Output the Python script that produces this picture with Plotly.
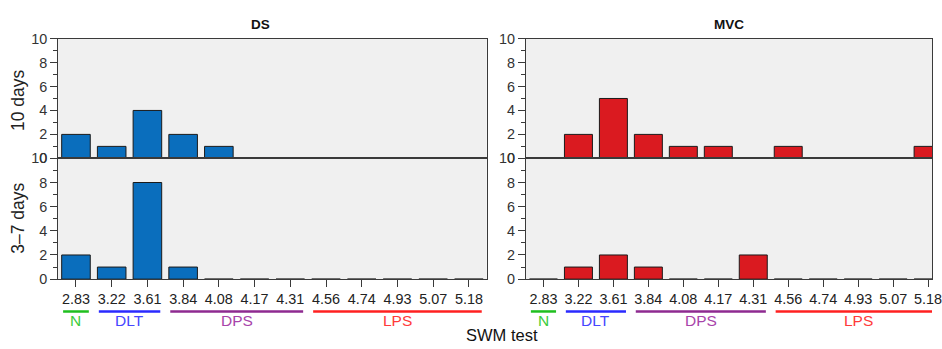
import plotly.graph_objects as go

categories = ["2.83", "3.22", "3.61", "3.84", "4.08", "4.17", "4.31",
              "4.56", "4.74", "4.93", "5.07", "5.18"]
ds_10days = [2, 1, 4, 2, 1, 0, 0, 0, 0, 0, 0, 0]
ds_3_7days = [2, 1, 8, 1, 0, 0, 0, 0, 0, 0, 0, 0]
mvc_10days = [0, 2, 5, 2, 1, 1, 0, 1, 0, 0, 0, 1]
mvc_3_7days = [0, 1, 2, 1, 0, 0, 2, 0, 0, 0, 0, 0]
y_ticks = [0, 2, 4, 6, 8, 10]

group_names = ["N", "DLT", "DPS", "LPS"]
group_first = ["2.83", "3.22", "3.84", "4.56"]
group_last = ["2.83", "3.61", "4.31", "5.18"]
group_line_colors = ["#1fbf1f", "#2a2aff", "#8e2a90", "#ff2020"]
group_text_colors = ["#3ccc3c", "#4646ff", "#a844aa", "#ff3a3a"]

W, H = 942, 349
FONT = "Arial, Liberation Sans, sans-serif"
DS_BLUE = "#0a6ebd"
MVC_RED = "#da1a20"
AXC = "#3a3a3a"

# the photographed page comes out slightly squeezed; map target pixels to layout pixels
SX, SY, OY = 0.996, 0.956, 8.0

def px(x):
    return min(1.0, (x / SX) / W)

def py(y):
    return 1 - (y / SY - OY) / H

fig = go.Figure()
panels = [
    ("x", "y", ds_10days, DS_BLUE),
    ("x2", "y2", ds_3_7days, DS_BLUE),
    ("x3", "y3", mvc_10days, MVC_RED),
    ("x4", "y4", mvc_3_7days, MVC_RED),
]
for xa, ya, vals, col in panels:
    fig.add_trace(go.Bar(x=categories, y=vals, xaxis=xa, yaxis=ya,
                         marker=dict(color=col, line=dict(color="#1a1a1a", width=1)),
                         showlegend=False, hoverinfo="x+y"))

top_dom = [py(158.3), py(38.3)]
bot_dom = [py(279.3), py(158.3)]
ds_dom = [px(58.5), px(490)]
mvc_dom = [px(529.5), 1.0]
ds_range = [-0.5, 11.5]
mvc_range = [-0.5, -0.5 + (942 * SX - 529.5) / 35.2]

def xaxis(dom, rng, anchor, show_labels):
    return dict(domain=dom, range=rng, anchor=anchor, type="category",
                showgrid=False, zeroline=False, showline=True, linecolor=AXC,
                linewidth=1, mirror=True,
                ticks="outside" if show_labels else "", ticklen=7, tickcolor=AXC,
                showticklabels=show_labels,
                tickfont=dict(family=FONT, size=14.4, color="#222"))

def yaxis(dom, anchor):
    return dict(domain=dom, range=[0, 10], anchor=anchor, tickvals=y_ticks,
                showgrid=False, zeroline=False, showline=True, linecolor=AXC,
                linewidth=1, mirror=True, ticks="outside", ticklen=7,
                tickcolor=AXC,
                minor=dict(tickvals=[1, 3, 5, 7, 9], ticks="outside", ticklen=4,
                           tickcolor=AXC),
                tickfont=dict(family=FONT, size=14.4, color="#333"))

fig.update_layout(
    width=W, height=H, autosize=False,
    margin=dict(l=0, r=0, t=0, b=0, pad=0),
    paper_bgcolor="white", plot_bgcolor="#f0f0f0",
    bargap=0.2,
    xaxis=xaxis(ds_dom, ds_range, "y", False),
    yaxis=yaxis(top_dom, "x"),
    xaxis2=xaxis(ds_dom, ds_range, "y2", True),
    yaxis2=yaxis(bot_dom, "x2"),
    xaxis3=xaxis(mvc_dom, mvc_range, "y3", False),
    yaxis3=yaxis(top_dom, "x3"),
    xaxis4=xaxis(mvc_dom, mvc_range, "y4", True),
    yaxis4=yaxis(bot_dom, "x4"),
)

ann = [
    dict(text="<b>DS</b>", x=px(262), y=py(24), size=13.5),
    dict(text="<b>MVC</b>", x=px(734), y=py(24), size=13.5),
]
for a in ann:
    fig.add_annotation(text=a["text"], xref="paper", yref="paper", x=a["x"], y=a["y"],
                       showarrow=False, xanchor="center", yanchor="middle",
                       font=dict(family=FONT, size=a["size"], color="#111"))
# "SWM test" has no descenders: let the empty descent area fall past the bottom edge
fig.add_annotation(text="SWM test", xref="paper", yref="paper", x=px(505), y=-4.5 / H,
                   showarrow=False, xanchor="center", yanchor="bottom", borderpad=0,
                   font=dict(family=FONT, size=16.5, color="#111"))
for txt, yc in [("10 days", 100), ("3–7 days", 218)]:
    fig.add_annotation(text=txt, xref="paper", yref="paper", x=px(18), y=py(yc),
                       showarrow=False, textangle=-90, xanchor="center", yanchor="middle",
                       font=dict(family=FONT, size=17.5, color="#222"))

for xa in ["x2", "x4"]:
    for name, first, last, lc, tc in zip(group_names, group_first, group_last,
                                         group_line_colors, group_text_colors):
        i0 = categories.index(first)
        i1 = categories.index(last)
        fig.add_shape(type="line", xref=xa, yref="paper",
                      x0=i0 - 0.36, x1=i1 + 0.36, y0=py(311.7), y1=py(311.7),
                      line=dict(color=lc, width=2.5))
        fig.add_annotation(text=name, xref=xa, yref="paper", x=(i0 + i1) / 2,
                           y=py(321), showarrow=False, xanchor="center",
                           yanchor="middle",
                           font=dict(family=FONT, size=15.5, color=tc))

fig.write_html("out.html", config={"responsive": False})
